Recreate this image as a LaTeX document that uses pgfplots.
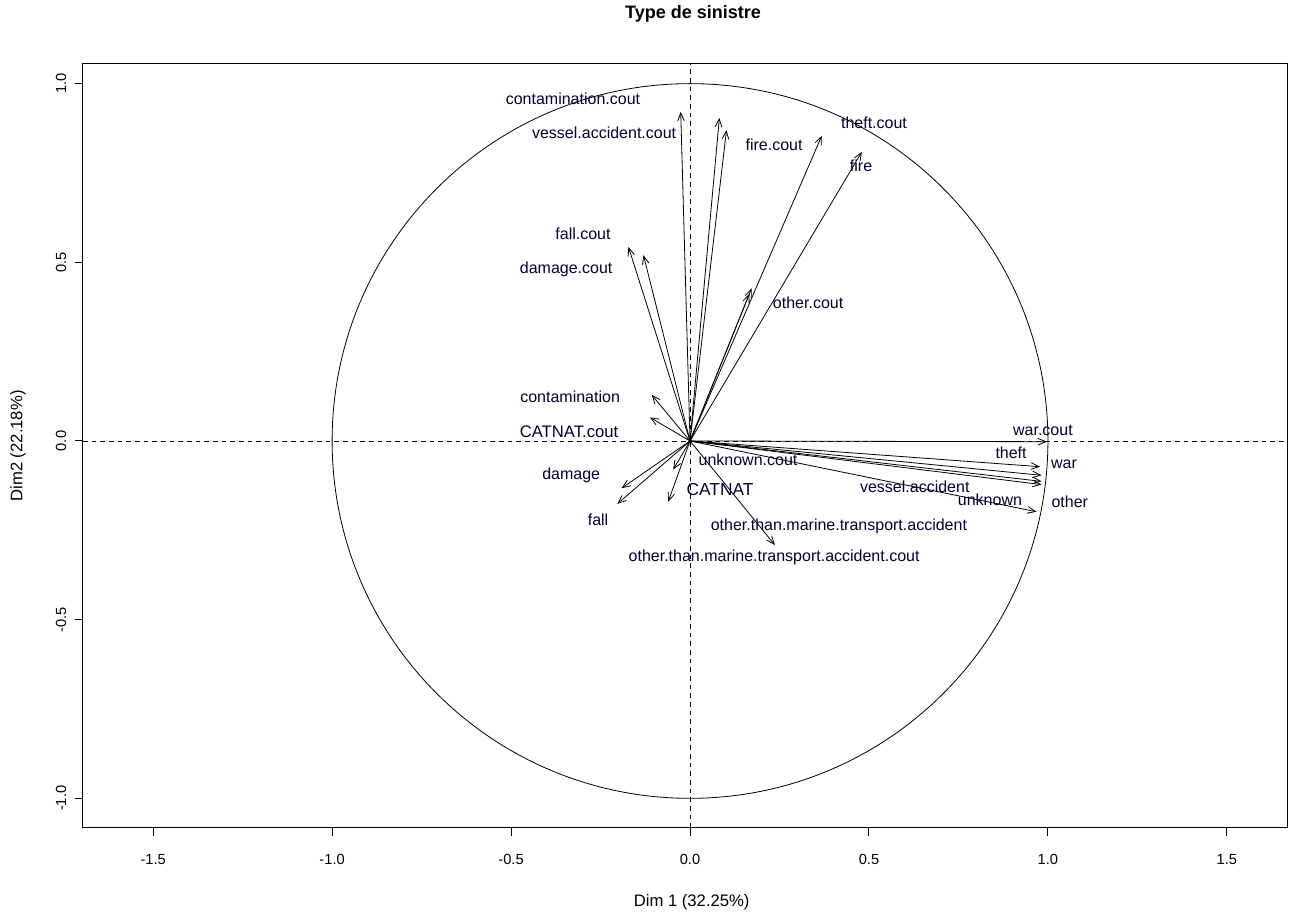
\documentclass[border=0pt]{standalone}
\usepackage{pgfplots}
\pgfplotsset{compat=1.18}
\usepackage{fontspec}
\setmainfont{Liberation Sans}
\usetikzlibrary{arrows.meta}
\tikzset{
  arr/.style={line width=0.6pt, -{Straight Barb[length=6pt,width=5pt]}},
  lab/.style={font=\fontsize{12}{14}\selectfont, text=black!80!blue},
}
\begin{document}
\begin{tikzpicture}
\begin{axis}[name=ax, scale only axis, width=903pt, height=573pt,
  xmin=-1.696, xmax=1.668, ymin=-1.083, ymax=1.055,
  clip=false,
  axis line style={line width=0.75pt},
  xtick={-1.5,-1,-0.5,0,0.5,1,1.5},
  xticklabels={-1.5,-1.0,-0.5,0.0,0.5,1.0,1.5},
  ytick={-1,-0.5,0,0.5,1},
  yticklabels={-1.0,-0.5,0.0,0.5,1.0},
  tick align=outside, tick pos=left, major tick length=6pt,
  every tick/.style={black, line width=0.75pt},
  tick label style={font=\fontsize{11}{12}\selectfont},
  xticklabel shift=10pt,
  yticklabel style={rotate=90, anchor=south},
  yticklabel shift=3pt,
]
% circle and reference lines
\draw[line width=0.6pt] (axis cs:0,0) ellipse [x radius=1, y radius=1];
\draw[line width=0.6pt, dash pattern=on 3.5pt off 3pt] (axis cs:0,-1.083) -- (axis cs:0,1.055);
\draw[line width=0.6pt, dash pattern=on 3.5pt off 3pt] (axis cs:-1.696,0) -- (axis cs:1.668,0);
% arrows (upper)
\addplot[arr] coordinates {(0,0) (-0.026,0.921)};
\addplot[arr] coordinates {(0,0) (0.082,0.904)};
\addplot[arr] coordinates {(0,0) (0.102,0.870)};
\addplot[arr] coordinates {(0,0) (0.368,0.854)};
\addplot[arr] coordinates {(0,0) (0.480,0.809)};
\addplot[arr] coordinates {(0,0) (-0.172,0.543)};
\addplot[arr] coordinates {(0,0) (-0.130,0.520)};
\addplot[arr] coordinates {(0,0) (0.172,0.427)};
\addplot[arr] coordinates {(0,0) (0.166,0.412)};
% small left
\addplot[arr] coordinates {(0,0) (-0.107,0.129)};
\addplot[arr] coordinates {(0,0) (-0.112,0.066)};
% lower
\addplot[arr] coordinates {(0,0) (-0.191,-0.132)};
\addplot[arr] coordinates {(0,0) (-0.203,-0.176)};
\addplot[arr] coordinates {(0,0) (-0.061,-0.170)};
\addplot[arr] coordinates {(0,0) (-0.047,-0.080)};
\addplot[arr] coordinates {(0,0) (0.237,-0.291)};
% right
\addplot[arr] coordinates {(0,0) (0.997,-0.002)};
\addplot[arr] coordinates {(0,0) (0.978,-0.072)};
\addplot[arr] coordinates {(0,0) (0.982,-0.096)};
\addplot[arr] coordinates {(0,0) (0.982,-0.113)};
\addplot[arr] coordinates {(0,0) (0.982,-0.122)};
\addplot[arr] coordinates {(0,0) (0.968,-0.198)};
% labels
\node[lab] at (axis cs:-0.327,0.957) {contamination.cout};
\node[lab] at (axis cs:-0.240,0.862) {vessel.accident.cout};
\node[lab] at (axis cs:0.235,0.828) {fire.cout};
\node[lab] at (axis cs:0.514,0.890) {theft.cout};
\node[lab] at (axis cs:0.478,0.769) {fire};
\node[lab] at (axis cs:-0.299,0.579) {fall.cout};
\node[lab] at (axis cs:-0.346,0.481) {damage.cout};
\node[lab] at (axis cs:0.330,0.386) {other.cout};
\node[lab] at (axis cs:-0.335,0.123) {contamination};
\node[lab, font=\fontsize{12.5}{14}\selectfont] at (axis cs:-0.338,0.025) {CATNAT.cout};
\node[lab] at (axis cs:0.986,0.031) {war.cout};
\node[lab] at (axis cs:0.897,-0.034) {theft};
\node[lab] at (axis cs:1.045,-0.064) {war};
\node[lab] at (axis cs:0.162,-0.053) {unknown.cout};
\node[lab] at (axis cs:-0.332,-0.095) {damage};
\node[lab, font=\fontsize{13}{15}\selectfont] at (axis cs:0.084,-0.137) {CATNAT};
\node[lab] at (axis cs:0.628,-0.129) {vessel.accident};
\node[lab] at (axis cs:0.838,-0.165) {unknown};
\node[lab] at (axis cs:1.061,-0.171) {other};
\node[lab] at (axis cs:-0.257,-0.221) {fall};
\node[lab] at (axis cs:0.416,-0.238) {other.than.marine.transport.accident};
\node[lab] at (axis cs:0.235,-0.327) {other.than.marine.transport.accident.cout};
\end{axis}
\node[font=\bfseries\fontsize{13.5}{15}\selectfont] at ([xshift=6pt,yshift=37.5pt]ax.north) {Type de sinistre};
\node[font=\fontsize{12.5}{14}\selectfont] at ([xshift=5pt,yshift=-55.5pt]ax.south) {Dim 1 (32.25\%)};
\node[font=\fontsize{12.5}{14}\selectfont, rotate=90] at ([xshift=-48.75pt]ax.west) {Dim2 (22.18\%)};
\pgfresetboundingbox
\path ([xshift=-62.25pt,yshift=-63pt]ax.south west) rectangle ([xshift=9pt,yshift=48pt]ax.north east);
\end{tikzpicture}
\end{document}
